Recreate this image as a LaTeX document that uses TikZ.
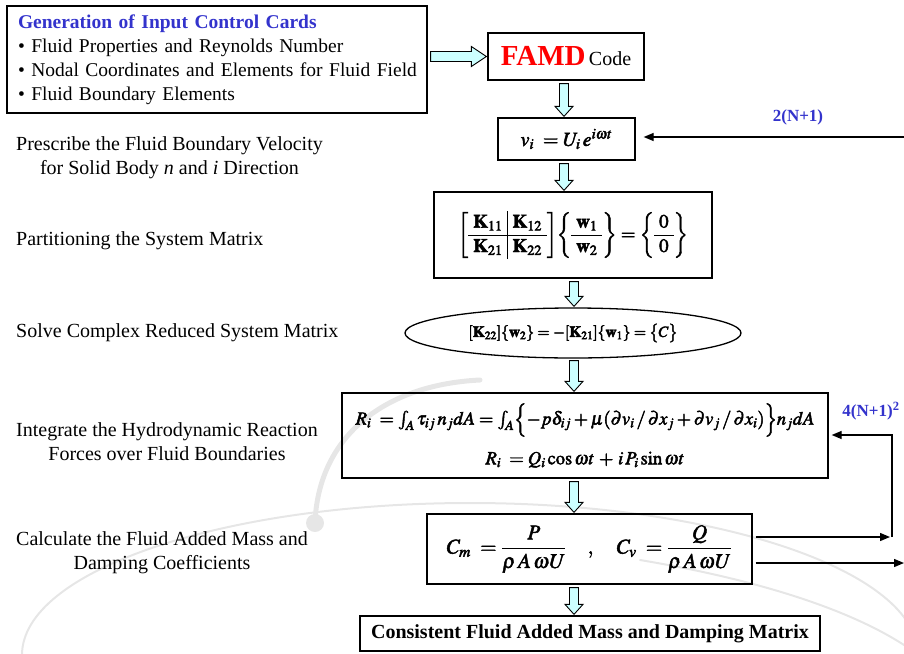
\documentclass[tikz,border=0pt]{standalone}
\usepackage{amsmath}
\usepackage{mathptmx}
\usepackage[no-math]{fontspec}
\setmainfont{Liberation Serif}
\usetikzlibrary{arrows.meta,calc,shapes.geometric}
\definecolor{arrowfill}{HTML}{CCFFFF}
\definecolor{labelblue}{HTML}{3333CC}
\definecolor{wmgray}{HTML}{E6E6E6}
\newcommand\heavy[1]{\special{pdf:literal 2 Tr 0.45 w}#1\special{pdf:literal 0 Tr}}
\newcommand\blockdown[2]{%
  \path let \p1=#1, \p2=#2 in
    [blockarrow] (\x1-4.5pt,\y1) -- (\x1+4.5pt,\y1) -- (\x1+4.5pt,\y2+10pt) -- (\x1+9pt,\y2+10pt)
    -- (\x1,\y2) -- (\x1-9pt,\y2+10pt) -- (\x1-4.5pt,\y2+10pt) -- cycle;}
\newcommand\blockright[2]{%
  \path let \p1=#1, \p2=#2 in
    [blockarrow] (\x1,\y1-5pt) -- (\x1,\y1+5pt) -- (\x2-15pt,\y1+5pt) -- (\x2-15pt,\y1+10pt)
    -- (\x2,\y1) -- (\x2-15pt,\y1-10pt) -- (\x2-15pt,\y1-5pt) -- cycle;}
\begin{document}
\begin{tikzpicture}[x=1pt,y=-1pt,
  every node/.style={font=\fontsize{20}{24}\selectfont},
  box/.style={draw, line width=1.3pt, inner sep=0pt, align=center},
  blockarrow/.style={draw, fill=arrowfill, line width=0.9pt, line join=miter},
  conn/.style={line width=1.3pt},
  tip/.style={-{Triangle[length=10pt,width=8pt]}},
  sidelabel/.style={anchor=west, align=center, inner sep=0pt},
  fblabel/.style={text=labelblue, font=\fontsize{17}{19}\selectfont\bfseries, inner sep=0pt},
  wm/.style={draw=wmgray, line cap=round}]
\useasboundingbox (0,0) rectangle (904,653);
% watermark
\draw[wm, line width=2pt] (470,655) ellipse [x radius=448, y radius=152];
\draw[wm, line width=5pt] (315,523) .. controls (318,440) and (380,385) .. (480,380);
\fill[wmgray] (315,523) circle (9);
\draw[wm, line width=2pt] (640,560) .. controls (760,580) and (850,610) .. (904,645);
% nodes
\node[box, minimum width=420, minimum height=107, text width=398, align=left,
      font=\fontsize{19.5}{24}\selectfont] (cards) at (217,59.5)
 {\mbox{\bfseries\color{labelblue}Generation of Input Control Cards}\\
  \mbox{\textbullet\ Fluid Properties and Reynolds Number}\\
  \mbox{\textbullet\ Nodal Coordinates and Elements for Fluid Field}\\
  \mbox{\textbullet\ Fluid Boundary Elements}};
\node[box, minimum width=156, minimum height=47] (famd) at (566,56.5)
 {{\fontsize{29}{30}\selectfont\bfseries\color{red}FAMD}\,Code};
\node[box, minimum width=137, minimum height=42] (vel) at (566.5,139)
 {\heavy{$v_i\;=U_i\,e^{i\omega t}$}};
\node[box, minimum width=278, minimum height=86, font=\fontsize{19}{24}\selectfont] (mat) at (573,235)
 {\setlength{\arraycolsep}{5pt}\heavy{$\left[\begin{array}{c|c}\mathbf{K}_{11}&\mathbf{K}_{12}\\\hline\mathbf{K}_{21}&\mathbf{K}_{22}\end{array}\right]
 \!\left\{\begin{array}{c}\mathbf{w}_1\\\hline\mathbf{w}_2\end{array}\right\}
 =\left\{\begin{array}{c}\mathrm{0}\\\hline\mathrm{0}\end{array}\right\}$}};
\node[box, ellipse, minimum width=336, minimum height=50, font=\fontsize{15.5}{17}\selectfont] (ell) at (573,333)
 {\heavy{$[\mathbf{K}_{22}]\{\mathbf{w}_2\}=-[\mathbf{K}_{21}]\{\mathbf{w}_1\}=\bigl\{C\bigr\}$}};
\node[box, minimum width=486, minimum height=85, font=\fontsize{18.5}{24}\selectfont] (react) at (585,435.5)
 {\heavy{$R_i\;=\int_A\tau_{ij}\,n_j dA=\int_A\Bigl\{-p\delta_{ij}+\mu(\partial v_i\,/\,\partial x_j+\partial v_j\,/\,\partial x_i)\Bigr\}n_j dA$}\\[14pt]
  \heavy{$R_i\;=Q_i\cos\omega t\,+\,i\,P_i\sin\omega t$}};
\node[box, minimum width=325, minimum height=70, font=\fontsize{21}{24}\selectfont] (coef) at (589.5,549)
 {\heavy{$C_m\;=\dfrac{P}{\rho\,A\,\omega U}\quad,\quad C_v\;=\dfrac{Q}{\rho\,A\,\omega U}$}};
\node[box, minimum width=460, minimum height=35, font=\fontsize{20}{22}\selectfont\bfseries] (final) at (590,633.5)
 {Consistent Fluid Added Mass and Damping Matrix};
% side labels
\node[sidelabel] (l1) at (16,158) {Prescribe the Fluid Boundary Velocity\\for Solid Body \textit{n} and \textit{i} Direction};
\node[sidelabel] (l2) at (16,241) {Partitioning the System Matrix};
\node[sidelabel] (l3) at (16,333) {Solve Complex Reduced System Matrix};
\node[sidelabel] (l4) at (16,442) {Integrate the Hydrodynamic Reaction\\Forces over Fluid Boundaries};
\node[sidelabel] (l5) at (16,553) {Calculate the Fluid Added Mass and\\Damping Coefficients};
% feedback labels
\node[fblabel] (n2) at (798,117) {2(N+1)};
\node[fblabel] (n4) at (871,411) {4(N+1)\textsuperscript{2}};
% column coordinates
\coordinate (colA) at (564,0);
\coordinate (colB) at (574,0);
\coordinate (edgeTop) at (904,137);
\coordinate (loopR) at (892,0);
\coordinate (edgeBot) at (904,0);
% block arrows
\blockright{($(cards.east|-famd.west)+(3,0)$)}{($(famd.west)+(-1,0)$)}
\blockdown{($(famd.south-|colA)+(0,3)$)}{($(vel.north-|colA)+(0,-1)$)}
\blockdown{($(vel.south-|colA)+(0,3)$)}{($(mat.north-|colA)+(0,-1)$)}
\blockdown{($(mat.south-|colB)+(0,3)$)}{($(ell.north-|colB)+(0,-1)$)}
\blockdown{($(ell.south-|colB)+(0,2)$)}{($(react.north-|colB)+(0,-1)$)}
\blockdown{($(react.south-|colB)+(0,3)$)}{($(coef.north-|colB)+(0,-1)$)}
\blockdown{($(coef.south-|colB)+(0,3)$)}{($(final.north-|colB)+(0,-1)$)}
% connectors
\draw[conn, tip] (edgeTop) -- ($(vel.east|-edgeTop)+(8,0)$);
\draw[conn, tip] ($(coef.east)+(3,-12)$) -- ($(coef.east-|loopR)+(-2,-12)$);
\draw[conn, tip] ($(coef.east-|loopR)+(0,-12)$) -- ($(react.east-|loopR)+(0,-0.5)$) -- ($(react.east)+(3,-0.5)$);
\draw[conn, tip] ($(coef.east)+(3,14)$) -- ($(coef.east-|edgeBot)+(0,14)$);
\end{tikzpicture}
\end{document}
